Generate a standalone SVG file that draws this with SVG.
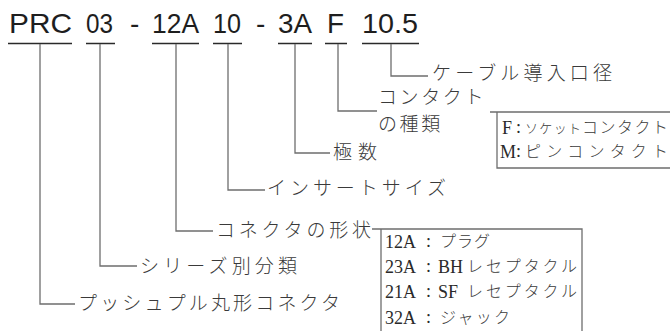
<svg xmlns="http://www.w3.org/2000/svg" width="670" height="331" viewBox="0 0 670 331">
<style>
.hd{font-family:"Liberation Sans",Arial,sans-serif;font-size:28px;fill:#1e1e1e}
.ul{stroke:#2a2a2a;stroke-width:1.6;fill:none}
.ln{stroke:#6e6e6e;stroke-width:1.3;fill:none}
.jp{font-family:"Noto Sans CJK JP","Noto Sans",sans-serif;font-size:19px;fill:#3a3a3a;font-weight:300}
.bx{stroke:#6e6e6e;stroke-width:1.3;fill:none}
.lat{font-family:"Liberation Serif","Times New Roman",serif;font-size:18px;fill:#2a2a2a}
.kb{font-family:"Noto Sans CJK JP","Noto Sans",sans-serif;font-size:16px;fill:#3a3a3a;font-weight:300}
.sm{font-size:13px}
</style>
<rect width="670" height="331" fill="#ffffff"/>
<g id="code">
<text class="hd" x="9" y="33" textLength="63" lengthAdjust="spacingAndGlyphs">PRC</text>
<text class="hd" x="86" y="33" textLength="27" lengthAdjust="spacingAndGlyphs">03</text>
<text class="hd" x="130" y="33">-</text>
<text class="hd" x="152" y="33" textLength="47" lengthAdjust="spacingAndGlyphs">12A</text>
<text class="hd" x="213" y="33" textLength="28" lengthAdjust="spacingAndGlyphs">10</text>
<text class="hd" x="256" y="33">-</text>
<text class="hd" x="278" y="33" textLength="34" lengthAdjust="spacingAndGlyphs">3A</text>
<text class="hd" x="327" y="33" textLength="17" lengthAdjust="spacingAndGlyphs">F</text>
<text class="hd" x="362" y="33" textLength="56" lengthAdjust="spacingAndGlyphs">10.5</text>
<path class="ul" d="M8 43.5H72M86 43.5H115M152 43.5H199M213 43.5H242M278 43.5H312M325 43.5H347M362 43.5H419"/>
</g>
<g id="connectors">
<path class="ln" d="M391 44V76H428"/>
<path class="ln" d="M338 44V111H377"/>
<path class="ln" d="M295 44V153H330"/>
<path class="ln" d="M228 44V190H265"/>
<path class="ln" d="M176 44V231H213"/>
<path class="ln" d="M100 44V266H137"/>
<path class="ln" d="M40 44V304H75"/>
</g>
<g id="cable">
<text class="jp" x="432" y="80" textLength="180">ケーブル導入口径</text>
</g>
<g id="contact">
<text class="jp" letter-spacing="2.6"><tspan x="378" y="104">コンタクト</tspan><tspan x="378" y="131">の種類</tspan></text>
</g>
<g id="contact-box">
<path class="bx" d="M490 112H670M497 112V168H670"/>
<text class="lat" x="502" y="134">F</text>
<text class="lat" x="516" y="133">:</text>
<text class="kb sm" x="525" y="133" textLength="56">ソケット</text>
<text class="kb" x="582" y="133" textLength="86">コンタクト</text>
<text class="lat" x="500" y="158">M</text>
<text class="lat" x="516" y="157">:</text>
<text class="kb" x="525" y="157" textLength="143">ピンコンタクト</text>
</g>
<g id="poles">
<text class="jp" x="333" y="159" textLength="44">極数</text>
</g>
<g id="insert">
<text class="jp" x="267" y="195" textLength="179">インサートサイズ</text>
</g>
<g id="shape">
<text class="jp" x="216" y="237" textLength="155">コネクタの形状</text>
</g>
<g id="shape-box">
<path class="bx" d="M372 229H582V331M381 229V331"/>
<text class="lat" x="385" y="248">12A</text>
<text class="lat" x="426" y="247">:</text>
<text class="kb" x="440" y="247" textLength="50">プラグ</text>
<text class="lat" x="385" y="273">23A</text>
<text class="lat" x="426" y="272">:</text>
<text class="lat" x="438" y="273">BH</text>
<text class="kb" x="467" y="272" textLength="110">レセプタクル</text>
<text class="lat" x="385" y="298">21A</text>
<text class="lat" x="426" y="297">:</text>
<text class="lat" x="438" y="298">SF</text>
<text class="kb" x="467" y="297" textLength="110">レセプタクル</text>
<text class="lat" x="385" y="324">32A</text>
<text class="lat" x="426" y="323">:</text>
<text class="kb" x="440" y="323" textLength="70">ジャック</text>
</g>
<g id="series">
<text class="jp" x="140" y="273" textLength="157">シリーズ別分類</text>
</g>
<g id="push-pull">
<text class="jp" x="78" y="310" textLength="262">プッシュプル丸形コネクタ</text>
</g>
</svg>
